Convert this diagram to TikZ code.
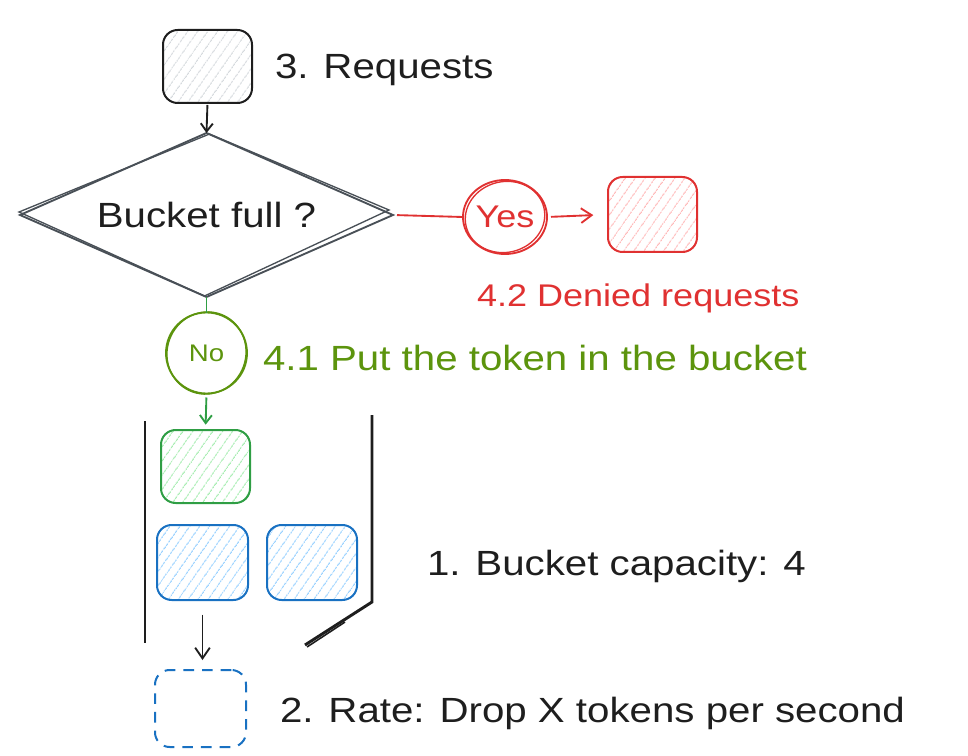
\documentclass[tikz,border=0pt]{standalone}
\usepackage{fontspec}
\setmainfont{Liberation Sans}[FakeStretch=1.15]
\usetikzlibrary{shapes.geometric,arrows.meta,patterns.meta}
\definecolor{ink}{HTML}{1E1E1E}
\definecolor{dgray}{HTML}{495057}
\definecolor{hgray}{HTML}{D5D9DD}
\definecolor{exred}{HTML}{E03131}
\definecolor{lred}{HTML}{FFB8B8}
\definecolor{exgreen}{HTML}{2F9E44}
\definecolor{lgreen}{HTML}{A3ECAE}
\definecolor{olive}{HTML}{5C940D}
\definecolor{exblue}{HTML}{1971C2}
\definecolor{lblue}{HTML}{96D0FF}
\newcommand\txtL{\fontsize{26.25pt}{30pt}\selectfont}
\newcommand\txtM{\fontsize{23.5pt}{27pt}\selectfont}
\newcommand\txtS{\fontsize{18pt}{21pt}\selectfont}
\begin{document}
\begin{tikzpicture}[x=0.75pt,y=-0.75pt,
  every node/.style={inner sep=0pt, outer sep=0pt},
  lbl/.style={anchor=base west, font=\txtL, text=ink},
  tok/.style={draw, rounded corners=11pt, line width=1.5pt,
    minimum width=67pt, minimum height=55pt},
  hatch/.style={pattern={Lines[angle=55,distance=6.5pt,line width=0.9pt]}, pattern color=#1},
  conn/.style={line width=1.4pt},
  tip/.style={-{Straight Barb[length=6pt,width=9pt,line width=1.4pt]}},
  wall/.style={ink, line width=2.2pt},
]
\useasboundingbox (0,0) rectangle (968,756);

% request box
\node[tok, draw=ink, hatch=hgray, minimum width=66.75pt, minimum height=54.75pt] (req) at (207.5,66.5) {};
\node[lbl] (t3) at (275,79) {3. Requests};

% decision diamond
\node[diamond, draw=dgray, line width=1.4pt, minimum width=279.75pt, minimum height=123pt,
  label={[font=\txtL, text=ink]center:Bucket full ?}] (d) at (206.5,215) {};
\draw[dgray, line width=1pt] ([shift={(-1,-3)}]d.west) -- ([shift={(3,1)}]d.north)
  -- ([shift={(-4,-5)}]d.east) -- ([shift={(-2,-1)}]d.south) -- cycle;

% yes branch
\node[ellipse, draw=exred, line width=1.4pt, minimum width=63pt, minimum height=55.5pt,
  label={[font=\txtM, text=exred]center:Yes}] (yes) at (505,217) {};
\draw[exred, line width=1pt, rotate around={14:(yes.center)}] (yes.center) ellipse [x radius=30pt, y radius=26.5pt];
\node[tok, draw=exred, hatch=lred, minimum width=66.75pt, minimum height=56.25pt] (deny) at (652.5,214.5) {};
\node[lbl, font=\txtM, text=exred] (t42) at (477,306) {4.2 Denied requests};

% no branch
\node[circle, draw=olive, line width=1.4pt, minimum size=60.75pt,
  label={[font=\txtS, text=olive]center:No}] (no) at (206.5,353) {};
\draw[olive, line width=1pt, rotate around={-20:(no.center)}] (no.center) ellipse [x radius=29.5pt, y radius=31pt];
\node[lbl, text=olive] (t41) at (263,370) {4.1 Put the token in the bucket};

% bucket
\draw[wall] (145,421) -- (145,643);
\draw[wall] (372,415) -- (372,602) -- (305,645);
\draw[ink, line width=1.2pt] (345,622) -- (307,647);
\node[tok, draw=exgreen, hatch=lgreen, minimum width=66.75pt, minimum height=54.75pt] (g) at (205.5,466.5) {};
\node[tok, draw=exblue, hatch=lblue, minimum width=68.25pt, minimum height=56.25pt] (b1) at (202.5,562.5) {};
\node[tok, draw=exblue, hatch=lblue, minimum width=67.5pt, minimum height=56.25pt] (b2) at (312,562.5) {};
\node[lbl] (t1) at (427,575) {1. Bucket capacity: 4};

% rate
\node[tok, draw=exblue, dash pattern=on 8pt off 6pt, minimum width=68.25pt, minimum height=57.75pt] (rate) at (200.5,708.5) {};
\node[lbl] (t2) at (280,722) {2. Rate: Drop X tokens per second};

% connectors
\draw[conn, ink, tip, shorten <=1.5pt] (req.south) -- (d.north);
\draw[conn, exred, shorten <=3pt, shorten >=0.5pt] (d.east) -- (yes.west);
\draw[conn, exred, -{Straight Barb[length=8pt,width=11pt,line width=1.4pt]}, shorten <=3pt, shorten >=11pt] (yes.east) -- (deny.west);
\draw[conn, exgreen] (d.south) -- (no.north);
\draw[conn, exgreen, tip, shorten <=3pt, shorten >=4pt] (no.south) -- (g.north);
\draw[conn, ink, -{Straight Barb[length=8pt,width=11pt,line width=1.4pt]}, shorten <=11pt, shorten >=7.5pt] (b1.south) -- (b1.south |- rate.north);
\end{tikzpicture}
\end{document}
